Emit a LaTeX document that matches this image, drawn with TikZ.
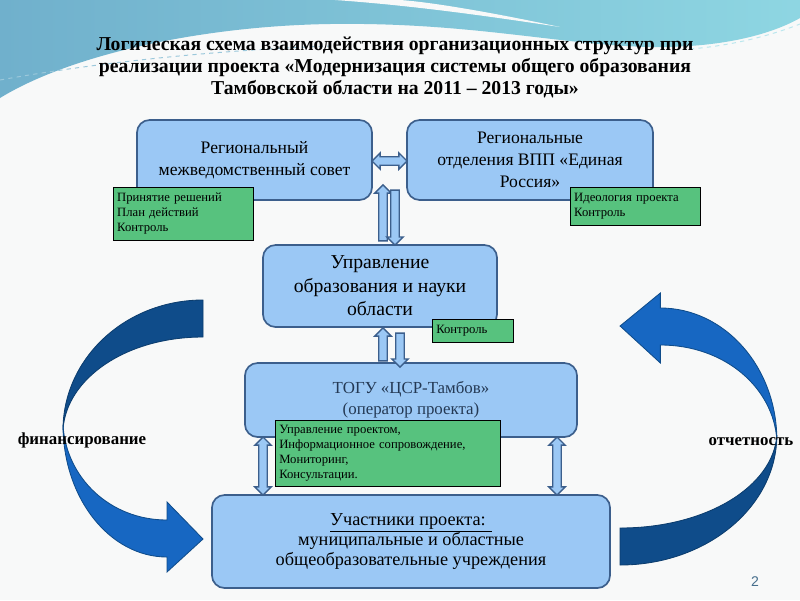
\documentclass[tikz,border=0pt]{standalone}
\usepackage{fontspec}
\setmainfont{Liberation Serif}
\setsansfont{Liberation Sans}
\usetikzlibrary{shapes.arrows,positioning}

\definecolor{paper}{RGB}{248,249,249}
\definecolor{tealA}{RGB}{112,176,204}
\definecolor{tealB}{RGB}{142,214,226}
\definecolor{boxfill}{RGB}{155,200,245}
\definecolor{boxline}{RGB}{60,95,140}
\definecolor{notefill}{RGB}{87,194,126}
\definecolor{darkband}{RGB}{15,76,138}
\definecolor{lightband}{RGB}{23,103,194}
\definecolor{pagenum}{RGB}{70,110,140}

% one bent block arrow, tail on top, head at the bottom pointing right
\newcommand\turnarrow{%
  \filldraw[fill=darkband,draw=darkband!80!black,line width=0.6pt]
    (203,300) .. controls (125.7,300) and (63,358.2) .. (63,430)
    .. controls (66,378.7) and (125.7,337) .. (203,337) -- cycle;
  \filldraw[fill=lightband,draw=darkband,line width=0.6pt]
    (63,425) .. controls (63,497.9) and (109.6,557) .. (167,557)
    -- (167,572) -- (203,539) -- (167,502) -- (167,520)
    .. controls (109.6,520) and (66,477.4) .. (63,425) -- cycle;}

\begin{document}
\begin{tikzpicture}[
  x=0.025cm,y=-0.025cm,
  every node/.style={font=\fontsize{12.5}{15.5}\selectfont,align=center},
  unit/.style={draw=boxline,line width=1.2pt,fill=boxfill,rounded corners=9pt,inner sep=2pt},
  note/.style={draw=black,line width=0.5pt,fill=notefill,align=left,
    font=\fontsize{9}{10.7}\selectfont,inner xsep=3pt,inner ysep=2pt},
  onearrow/.style={single arrow,draw=boxline,line width=1pt,fill=boxfill,
    inner sep=2.5pt,single arrow head extend=2.8pt},
  twoarrow/.style={double arrow,draw=boxline,line width=1pt,fill=boxfill,
    inner sep=2.5pt,double arrow head extend=2.8pt},
  side/.style={font=\bfseries\fontsize{12}{14}\selectfont}
]
\useasboundingbox (0,0) rectangle (800,600);
\fill[paper] (0,0) rectangle (800,600);

% header wave
\shade[left color=tealA,right color=tealB]
  (0,0) -- (800,0) -- (800,18) .. controls (770,35) and (720,48) .. (650,47)
  .. controls (560,45) and (470,22) .. (330,24)
  .. controls (200,26) and (70,55) .. (0,98) -- cycle;
\fill[paper] (335,0) .. controls (420,6) and (500,18) .. (560,27)
  .. controls (490,12) and (430,2) .. (400,0) -- cycle;
\draw[tealA!70!white,dashed,line width=0.7pt] (0,80) .. controls (100,62) and (220,50) .. (330,46);
\draw[tealB!60!white,dashed,line width=0.7pt] (690,49) .. controls (740,45) and (780,32) .. (800,24);

\node[font=\bfseries\fontsize{14}{15.6}\selectfont] (title) at (395,67)
  {Логическая схема взаимодействия организационных структур при\\
   реализации проекта «Модернизация системы общего образования\\
   Тамбовской области на 2011 -- 2013 годы»};

% big turning arrows
\turnarrow
\begin{scope}[shift={(847.4,865)},xscale=-1.12,yscale=-1]
  \turnarrow
\end{scope}
\node[side] (fin) at (82,440) {финансирование};
\node[side] (rep) at (751,442) {отчетность};

% structure boxes
\node[unit,minimum width=5.875cm,minimum height=2cm] (council) at (254.5,160)
  {Региональный\\межведомственный совет};
\node[unit,minimum width=6.15cm,minimum height=2cm] (party) at (530,160)
  {Региональные\\отделения ВПП «Единая\\Россия»};
\node[unit,minimum width=5.85cm,minimum height=2.05cm,
  font=\fontsize{14}{16.8}\selectfont] (edu) at (380,286)
  {Управление\\образования и науки\\области};
\node[unit,minimum width=8.3cm,minimum height=1.85cm,text=boxline!60!black,
  font=\fontsize{12}{15}\selectfont] (togu) at (411,400)
  {ТОГУ «ЦСР-Тамбов»\\(оператор проекта)};
\node[unit,minimum width=9.95cm,minimum height=2.325cm,
  font=\fontsize{13}{14.4}\selectfont] (members) at (411,541.5)
  {\underline{Участники проекта: }\\муниципальные и областные\\общеобразовательные учреждения};

% block arrows
\node[twoarrow,minimum height=0.875cm] (cvp) at (389.5,161) {};
\node[onearrow,minimum height=1.4cm,rotate=90] (up1) at (383,215) {};
\node[onearrow,minimum height=1.375cm,rotate=-90] (dn1) at (395,215.5) {};
\node[onearrow,minimum height=0.825cm,rotate=90] (up2) at (383,346.5) {};
\node[onearrow,minimum height=0.85cm,rotate=-90] (dn2) at (400,348) {};
\node[twoarrow,minimum height=1.45cm,rotate=90] (lpair) at (263,466) {};
\node[twoarrow,minimum height=1.45cm,rotate=90] (rpair) at (557,466) {};

% notes
\node[note,text width=3.29cm,minimum height=1.325cm] (n1) at (183,213.5)
  {Принятие решений\\План действий\\Контроль};
\node[note,text width=3.04cm,minimum height=0.95cm] (n2) at (635,206)
  {Идеология проекта\\Контроль};
\node[note,text width=1.81cm,minimum height=0.575cm] (n3) at (472.5,330.5)
  {Контроль};
\node[note,text width=5.41cm,minimum height=1.65cm] (n4) at (387.5,453)
  {Управление проектом,\\Информационное сопровождение,\\Мониторинг,\\Консультации.};

\node[font=\sffamily\fontsize{10}{12}\selectfont,text=pagenum] (pg) at (755,582) {2};
\end{tikzpicture}
\end{document}
